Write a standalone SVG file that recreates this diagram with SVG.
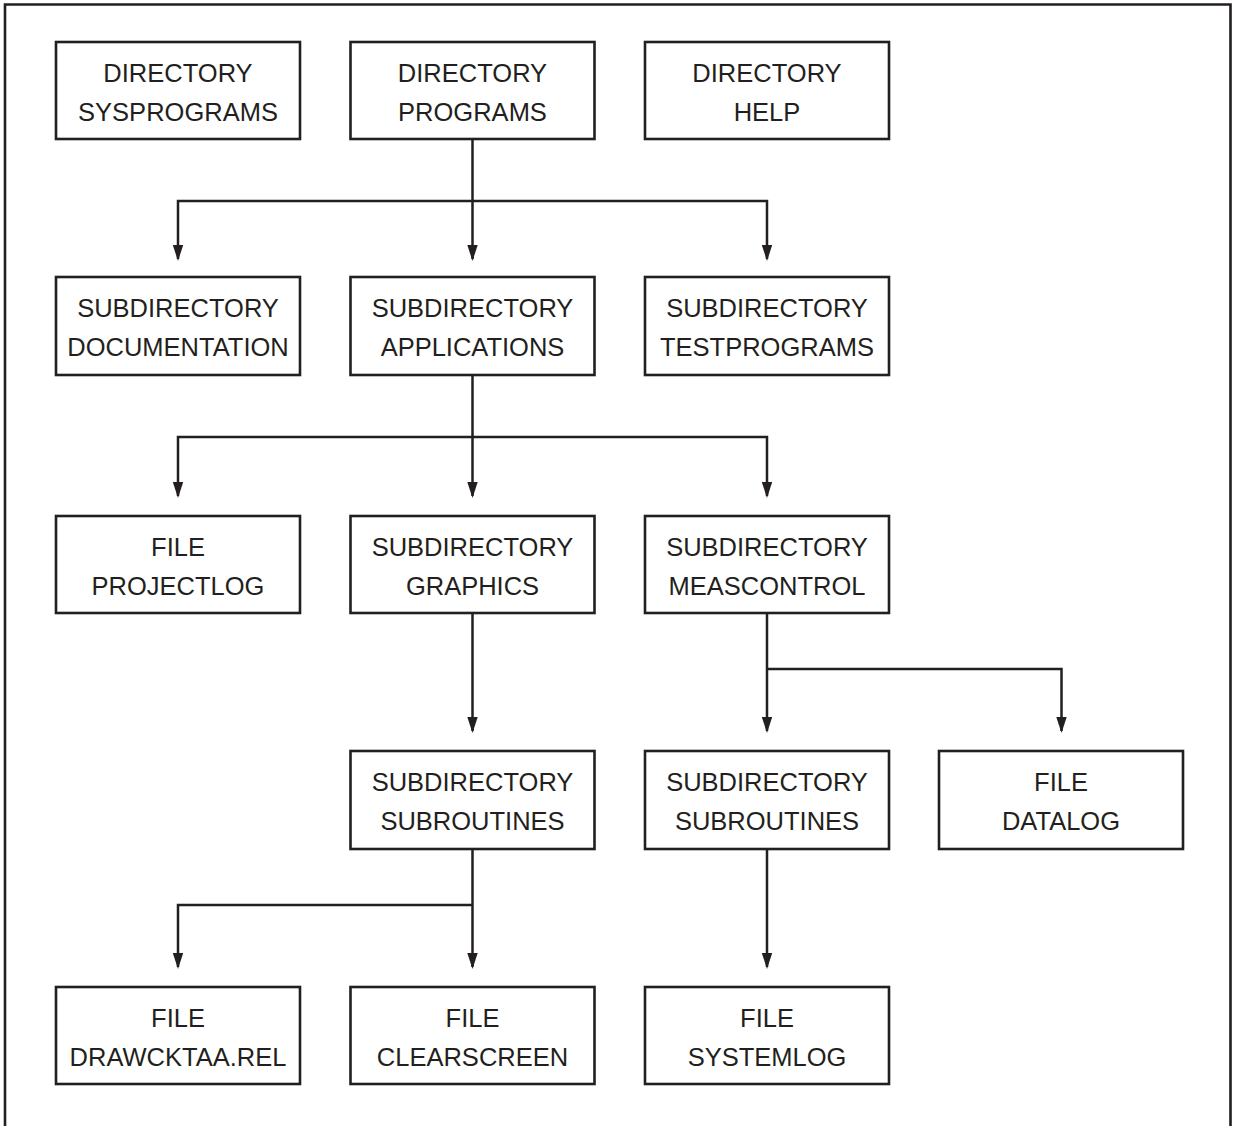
<svg xmlns="http://www.w3.org/2000/svg" width="1233" height="1126" viewBox="0 0 1233 1126">
<style>
.box{fill:#fff;stroke:#231f20;stroke-width:2.6}
.lbl{font-family:"Liberation Sans",Arial,sans-serif;font-size:25.5px;fill:#231f20;text-anchor:middle}
.con{fill:none;stroke:#231f20;stroke-width:2.5}
</style>
<defs>
<marker id="arr" markerUnits="userSpaceOnUse" markerWidth="16" markerHeight="12" viewBox="0 0 16 12" refX="14" refY="6" orient="auto">
<path d="M0,0.8 L16,6 L0,11.2 Z" fill="#231f20"/>
</marker>
</defs>
<rect width="1233" height="1126" fill="#fff"/>
<path d="M5,1126 V4.5 H1230.5 V1126" fill="none" stroke="#231f20" stroke-width="2.6"/>
<g id="connectors">
<path class="con" d="M472.5,139 V259" marker-end="url(#arr)"/>
<path class="con" d="M472.5,201 H178 V259" marker-end="url(#arr)"/>
<path class="con" d="M472.5,201 H767 V259" marker-end="url(#arr)"/>
<path class="con" d="M472.5,375 V496" marker-end="url(#arr)"/>
<path class="con" d="M472.5,437 H178 V496" marker-end="url(#arr)"/>
<path class="con" d="M472.5,437 H767 V496" marker-end="url(#arr)"/>
<path class="con" d="M472.5,613 V731" marker-end="url(#arr)"/>
<path class="con" d="M767,613 V731" marker-end="url(#arr)"/>
<path class="con" d="M767,669 H1061.5 V731" marker-end="url(#arr)"/>
<path class="con" d="M472.5,849 V967" marker-end="url(#arr)"/>
<path class="con" d="M472.5,905 H178 V967" marker-end="url(#arr)"/>
<path class="con" d="M767,849 V967" marker-end="url(#arr)"/>
</g>
<g id="n1"><rect class="box" x="56" y="42" width="244" height="97"/><text class="lbl" x="178" y="82">DIRECTORY</text><text class="lbl" x="178" y="121">SYSPROGRAMS</text></g>
<g id="n2"><rect class="box" x="350.5" y="42" width="244" height="97"/><text class="lbl" x="472.5" y="82">DIRECTORY</text><text class="lbl" x="472.5" y="121">PROGRAMS</text></g>
<g id="n3"><rect class="box" x="645" y="42" width="244" height="97"/><text class="lbl" x="767" y="82">DIRECTORY</text><text class="lbl" x="767" y="121">HELP</text></g>
<g id="n4"><rect class="box" x="56" y="277" width="244" height="98"/><text class="lbl" x="178" y="317">SUBDIRECTORY</text><text class="lbl" x="178" y="356">DOCUMENTATION</text></g>
<g id="n5"><rect class="box" x="350.5" y="277" width="244" height="98"/><text class="lbl" x="472.5" y="317">SUBDIRECTORY</text><text class="lbl" x="472.5" y="356">APPLICATIONS</text></g>
<g id="n6"><rect class="box" x="645" y="277" width="244" height="98"/><text class="lbl" x="767" y="317">SUBDIRECTORY</text><text class="lbl" x="767" y="356">TESTPROGRAMS</text></g>
<g id="n7"><rect class="box" x="56" y="516" width="244" height="97"/><text class="lbl" x="178" y="556">FILE</text><text class="lbl" x="178" y="595">PROJECTLOG</text></g>
<g id="n8"><rect class="box" x="350.5" y="516" width="244" height="97"/><text class="lbl" x="472.5" y="556">SUBDIRECTORY</text><text class="lbl" x="472.5" y="595">GRAPHICS</text></g>
<g id="n9"><rect class="box" x="645" y="516" width="244" height="97"/><text class="lbl" x="767" y="556">SUBDIRECTORY</text><text class="lbl" x="767" y="595">MEASCONTROL</text></g>
<g id="n10"><rect class="box" x="350.5" y="751" width="244" height="98"/><text class="lbl" x="472.5" y="791">SUBDIRECTORY</text><text class="lbl" x="472.5" y="830">SUBROUTINES</text></g>
<g id="n11"><rect class="box" x="645" y="751" width="244" height="98"/><text class="lbl" x="767" y="791">SUBDIRECTORY</text><text class="lbl" x="767" y="830">SUBROUTINES</text></g>
<g id="n12"><rect class="box" x="939" y="751" width="244" height="98"/><text class="lbl" x="1061" y="791">FILE</text><text class="lbl" x="1061" y="830">DATALOG</text></g>
<g id="n13"><rect class="box" x="56" y="987" width="244" height="97"/><text class="lbl" x="178" y="1027">FILE</text><text class="lbl" x="178" y="1066">DRAWCKTAA.REL</text></g>
<g id="n14"><rect class="box" x="350.5" y="987" width="244" height="97"/><text class="lbl" x="472.5" y="1027">FILE</text><text class="lbl" x="472.5" y="1066">CLEARSCREEN</text></g>
<g id="n15"><rect class="box" x="645" y="987" width="244" height="97"/><text class="lbl" x="767" y="1027">FILE</text><text class="lbl" x="767" y="1066">SYSTEMLOG</text></g>
</svg>
